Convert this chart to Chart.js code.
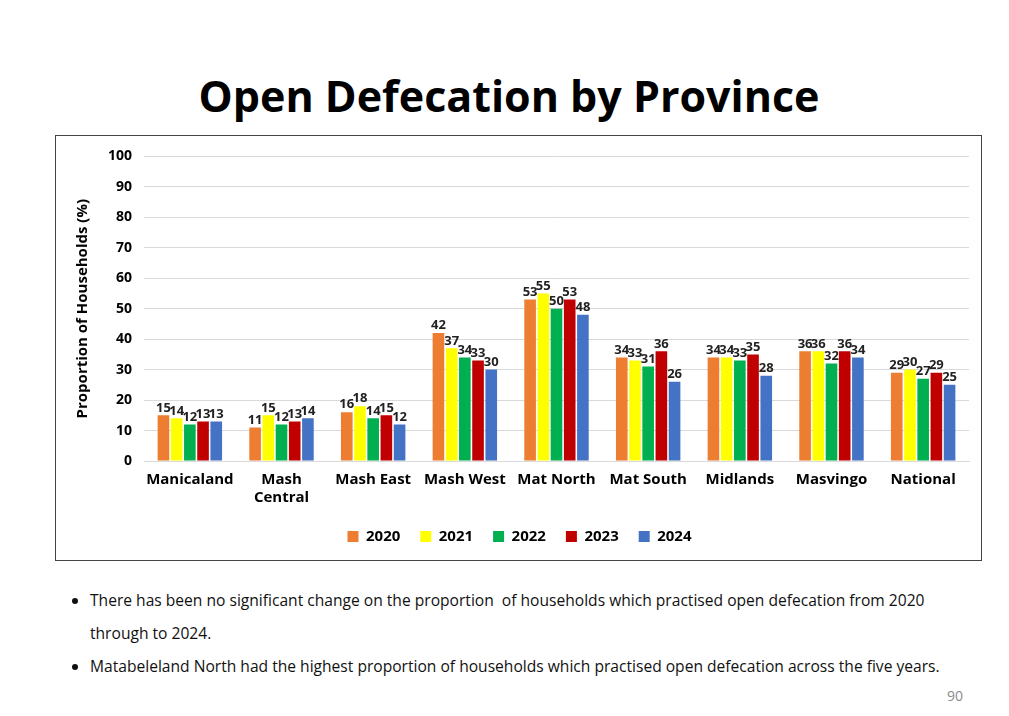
<!DOCTYPE html>
<html>
<head>
<meta charset="utf-8">
<script src="https://cdn.jsdelivr.net/npm/chart.js@4"></script>
<style>
  body { margin: 0; width: 1009px; height: 716px; background: #fff; font-family: "Open Sans", sans-serif; position: relative; overflow: hidden; }
  h1 { position: absolute; top: 66px; left: 0; width: 1018px; margin: 0; text-align: center; font-size: 43px; font-weight: bold; color: #000; }
  #box { position: absolute; left: 55px; top: 135px; width: 927px; height: 426px; border: 1px solid #444; box-sizing: border-box; }
  ul { position: absolute; left: 62px; top: 584px; margin: 0; padding: 0 0 0 28px; width: 900px; font-size: 15.6px; color: #111; white-space: nowrap; }
  li { line-height: 33px; margin-bottom: 0; }
  #pg { position: absolute; right: 46px; top: 686px; font-size: 14px; color: #8a8a8a; }
</style>
</head>
<body>
<h1>Open Defecation by Province</h1>
<div id="box"><canvas id="c" width="925" height="424"></canvas></div>
<ul>
  <li>There has been no significant change on the proportion&nbsp; of households which practised open defecation from 2020<br>through to 2024.</li>
  <li>Matabeleland North had the highest proportion of households which practised open defecation across the five years.</li>
</ul>
<div id="pg">90</div>
<script>
// categories and series
const provinces = ['Manicaland', ['Mash', 'Central'], 'Mash East', 'Mash West', 'Mat North', 'Mat South', 'Midlands', 'Masvingo', 'National'];
const years = ['2020', '2021', '2022', '2023', '2024'];
const v2020 = [15, 11, 16, 42, 53, 34, 34, 36, 29];
const v2021 = [14, 15, 18, 37, 55, 33, 34, 36, 30];
const v2022 = [12, 12, 14, 34, 50, 31, 33, 32, 27];
const v2023 = [13, 13, 15, 33, 53, 36, 35, 36, 29];
const v2024 = [13, 14, 12, 30, 48, 26, 28, 34, 25];
const colors = ['#ED7D31', '#FFFF00', '#00B050', '#C00000', '#4472C4'];

const series = [v2020, v2021, v2022, v2023, v2024];

// label above each bar
const barLabels = {
    id: 'barLabels',
    afterDatasetsDraw(chart) {
        const ctx = chart.ctx;
        ctx.save();
        ctx.font = 'bold 13px "Open Sans"';
        ctx.fillStyle = '#222';
        ctx.textAlign = 'center';
        ctx.textBaseline = 'bottom';
        chart.data.datasets.forEach((ds, i) => {
            chart.getDatasetMeta(i).data.forEach((bar, j) => {
                ctx.fillText(ds.data[j], bar.x, bar.y - 1);
            });
        });
        ctx.restore();
    }
};

new Chart(document.getElementById('c'), {
    type: 'bar',
    data: {
        labels: provinces,
        datasets: series.map((d, i) => ({
            label: years[i],
            data: d,
            backgroundColor: colors[i],
            categoryPercentage: 0.72,
            barPercentage: 0.88
        }))
    },
    options: {
        responsive: false,
        animation: false,
        layout: { padding: { top: 3, right: 12, left: 14, bottom: 6 } },
        scales: {
            y: {
                min: 0, max: 100,
                ticks: { stepSize: 10, color: '#000', padding: 12, font: { weight: 'bold', size: 14, family: 'Open Sans' } },
                grid: { color: '#d9d9d9', drawTicks: false },
                border: { display: false },
                title: { display: true, text: 'Proportion of Households (%)', color: '#000', font: { weight: 'bold', size: 15, family: 'Open Sans' } }
            },
            x: {
                ticks: { color: '#000', padding: 2, font: { weight: 'bold', size: 15, family: 'Open Sans' }, maxRotation: 0, autoSkip: false },
                grid: { display: false },
                border: { color: '#d9d9d9' }
            }
        },
        plugins: {
            legend: {
                position: 'bottom',
                labels: { boxWidth: 11, boxHeight: 11, color: '#000', padding: 20, font: { weight: 'bold', size: 15, family: 'Open Sans' } }
            },
            tooltip: { enabled: false }
        }
    },
    plugins: [barLabels]
});
</script>
</body>
</html>
